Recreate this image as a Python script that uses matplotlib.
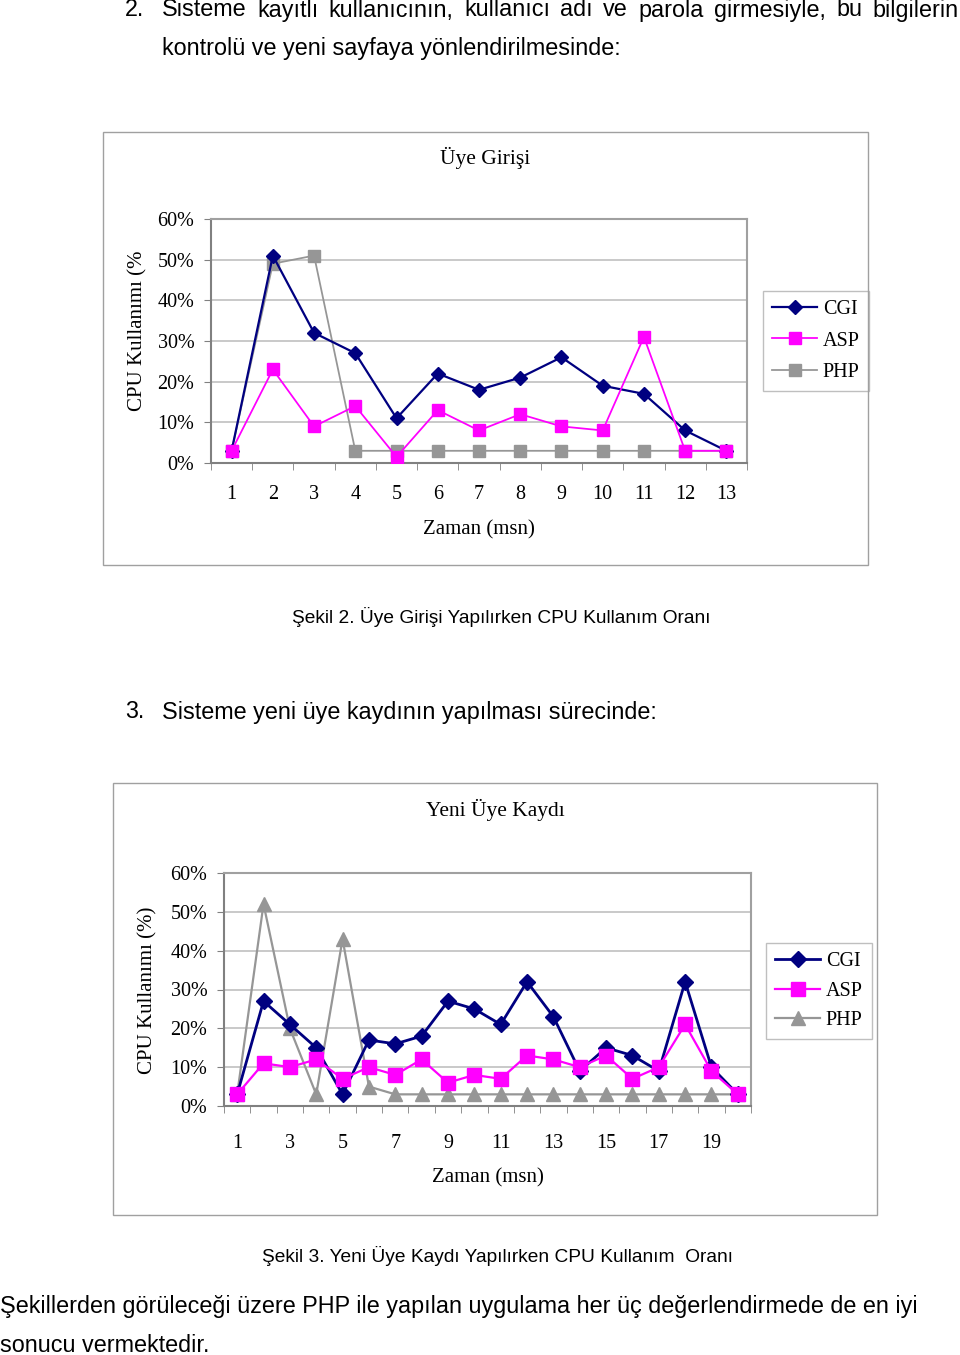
import matplotlib
matplotlib.use("Agg")
import matplotlib.pyplot as plt
from matplotlib.patches import Rectangle
from matplotlib.ticker import FixedLocator, FuncFormatter

W, H = 960, 1355

# Şekil 2 - Üye Girişi
t1 = list(range(1, 14))
cgi1 = [3, 51, 32, 27, 11, 22, 18, 21, 26, 19, 17, 8, 3]
asp1 = [3, 23, 9, 14, 1.5, 13, 8, 12, 9, 8, 31, 3, 3]
php1 = [3, 49, 51, 3, 3, 3, 3, 3, 3, 3, 3, 3, 3]

# Şekil 3 - Yeni Üye Kaydı
t2 = list(range(1, 21))
cgi2 = [3, 27, 21, 15, 3, 17, 16, 18, 27, 25, 21, 32, 23, 9, 15, 13, 9, 32, 10, 3]
asp2 = [3, 11, 10, 12, 7, 10, 8, 12, 6, 8, 7, 13, 12, 10, 13, 7, 10, 21, 9, 3]
php2 = [3, 52, 20, 3, 43, 5, 3, 3, 3, 3, 3, 3, 3, 3, 3, 3, 3, 3, 3, 3]

body = "Liberation Sans"
serif = "Liberation Serif"
BODY_FS = 16.8

fig = plt.figure(figsize=(W / 100, H / 100), dpi=100)


def px(x, y):
    return x / W, 1 - y / H


def frame(x0, y0, x1, y1):
    fig.patches.append(Rectangle(px(x0, y1), (x1 - x0) / W, (y1 - y0) / H,
                                 transform=fig.transFigure, fill=False,
                                 edgecolor="#a0a0a0", linewidth=1.0))


def justified(text, x0, x1, y):
    # spread the words of a justified line between x0 and x1
    words = text.split()
    r = fig.canvas.get_renderer()
    arts = [fig.text(0, 0, w, family=body, fontsize=BODY_FS, ha="left", va="center")
            for w in words]
    widths = [a.get_window_extent(r).width for a in arts]
    gap = (x1 - x0 - sum(widths)) / (len(words) - 1)
    x = x0
    for a, w in zip(arts, widths):
        a.set_position(px(x, y))
        x += w + gap


def chart(box, plot, t, cgi, asp, php, php_marker, title, title_y, ylab, ylab_pos,
          xlab_y, tick_every, xpad, leg_center, lw, ms, lspace):
    frame(*box)
    x0, y0, x1, y1 = plot
    ax = fig.add_axes([x0 / W, 1 - y1 / H, (x1 - x0) / W, (y1 - y0) / H])
    ax.plot(t, [v / 100 for v in cgi], color="#000080", marker="D", ms=ms * 0.8,
            lw=lw, label="CGI", zorder=3)
    ax.plot(t, [v / 100 for v in asp], color="#ff00ff", marker="s", ms=ms,
            lw=lw * 0.8, label="ASP", zorder=4)
    ax.plot(t, [v / 100 for v in php], color="#969696", marker=php_marker, ms=ms,
            lw=lw * 0.8, label="PHP", zorder=2)
    ax.set_xlim(0.5, len(t) + 0.5)
    ax.set_ylim(0, 0.6)
    ax.set_yticks([i / 10 for i in range(7)])
    ax.yaxis.set_major_formatter(FuncFormatter(lambda v, p: f"{v * 100:.0f}%"))
    ax.yaxis.grid(True, color="#c0c0c0", lw=1.2)
    ax.set_axisbelow(True)
    ax.set_xticks(t[::tick_every])
    ax.set_xticklabels([str(v) for v in t[::tick_every]])
    ax.xaxis.set_minor_locator(FixedLocator([i + 0.5 for i in range(len(t) + 1)]))
    ax.tick_params(axis="x", which="major", length=0, pad=xpad)
    ax.tick_params(axis="x", which="minor", length=5, color="#808080")
    ax.tick_params(axis="y", length=5, color="#808080", pad=7)
    for lab in ax.get_xticklabels() + ax.get_yticklabels():
        lab.set_fontfamily(serif)
        lab.set_fontsize(14.5)
    for s in ["top", "right"]:
        ax.spines[s].set_color("#a0a0a0")
    for s in ["left", "bottom"]:
        ax.spines[s].set_color("#808080")
    for s in ax.spines.values():
        s.set_linewidth(1.5)
    cx = (x0 + x1) / 2
    fig.text(*px((box[0] + box[2]) / 2, title_y), title, family=serif, fontsize=15.5,
             ha="center", va="center")
    fig.text(*px(*ylab_pos), ylab, family=serif, fontsize=15,
             rotation=90, ha="center", va="center")
    fig.text(*px(cx, xlab_y), "Zaman (msn)", family=serif, fontsize=15,
             ha="center", va="center")
    leg = ax.legend(loc="center", bbox_to_anchor=px(*leg_center),
                    bbox_transform=fig.transFigure,
                    prop={"family": serif, "size": 14.5}, frameon=True,
                    fancybox=False, edgecolor="#b0b0b0", handlelength=2.2,
                    handletextpad=0.3, labelspacing=lspace, borderpad=0.45)
    leg.get_frame().set_linewidth(1.0)
    return ax


# page text
fig.text(*px(125, 10), "2.", family=body, fontsize=BODY_FS, ha="left", va="center")
justified("Sisteme kayıtlı kullanıcının, kullanıcı adı ve parola girmesiyle, bu bilgilerin",
          162, 959, 10)
fig.text(*px(162, 49), "kontrolü ve yeni sayfaya yönlendirilmesinde:",
         family=body, fontsize=BODY_FS, ha="left", va="center")

chart((103, 132, 868, 565), (211, 219, 747, 463), t1, cgi1, asp1, php1, "s",
      "Üye Girişi", 158, "CPU Kullanımı (%", (138, 331), 530, 1, 16, (816, 341),
      1.6, 9, 0.6)

fig.text(*px(501, 617), "Şekil 2. Üye Girişi Yapılırken CPU Kullanım Oranı",
         family=body, fontsize=13.8, ha="center", va="center")

fig.text(*px(125, 712), "3.", family=body, fontsize=BODY_FS, ha="left", va="center")
fig.text(*px(162, 712), "Sisteme yeni üye kaydının yapılması sürecinde:",
         family=body, fontsize=BODY_FS, ha="left", va="center")

chart((113, 783, 877, 1215), (224, 873, 751, 1106), t2, cgi2, asp2, php2, "^",
      "Yeni Üye Kaydı", 810, "CPU Kullanımı (%)", (148, 990), 1178, 2, 20,
      (819, 991), 2.0, 10, 0.5)

fig.text(*px(497, 1256), "Şekil 3. Yeni Üye Kaydı Yapılırken CPU Kullanım  Oranı",
         family=body, fontsize=13.8, ha="center", va="center")

fig.text(*px(0, 1307), "Şekillerden görüleceği üzere PHP ile yapılan uygulama her üç değerlendirmede de en iyi",
         family=body, fontsize=BODY_FS, ha="left", va="center")
fig.text(*px(0, 1345), "sonucu vermektedir.", family=body, fontsize=BODY_FS,
         ha="left", va="center")

fig.savefig("out.png", dpi=100)
